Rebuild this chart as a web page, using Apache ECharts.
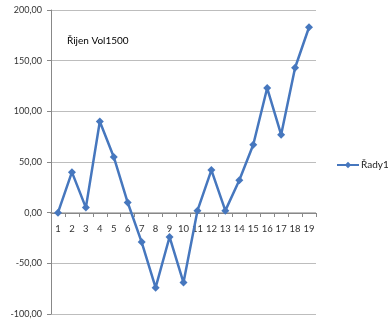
<!DOCTYPE html>
<html><head><meta charset="utf-8">
<script src="https://cdn.jsdelivr.net/npm/echarts@6/dist/echarts.min.js"></script>
<style>html,body{margin:0;padding:0;background:#fff}#c{width:388px;height:321px}</style>
</head><body><div id="c"></div>
<script>
const categories = ['1','2','3','4','5','6','7','8','9','10','11','12','13','14','15','16','17','18','19'];
const seriesName = 'Řady1';
const values = [0, 40, 5, 90, 55, 10, -29, -74, -24, -69, 2, 42, 2, 32, 67, 123, 77, 143, 183];
const chartTitle = 'Řijen Vol1500';
const yMin = -100, yMax = 200, yStep = 50;

const font = 'Lato, "Open Sans", sans-serif';
const gridH = 304;
const zeroOffset = -Math.round(gridH * (0 - yMin) / (yMax - yMin));
const chart = echarts.init(document.getElementById('c'));
chart.setOption({
  animation: false,
  backgroundColor: '#ffffff',
  title: { text: chartTitle, left: 62, top: 31, textStyle: { fontFamily: font, fontSize: 10, fontWeight: 'normal', color: '#000' } },
  legend: { data: [seriesName], left: 331, top: 155, itemWidth: 22, itemHeight: 8, itemGap: 2,
    textStyle: { fontFamily: font, fontSize: 10, color: '#222', padding: [0,0,0,-3] } },
  grid: { left: 51, top: 10, width: 265, height: gridH },
  xAxis: { type: 'category', data: categories, boundaryGap: true, position: 'bottom', offset: zeroOffset,
    axisLine: { onZero: false, lineStyle: { color: '#888', width: 1 } },
    axisTick: { show: true, length: 4, lineStyle: { color: '#888' } },
    axisLabel: { fontFamily: font, fontSize: 9.5, color: '#333', margin: 11, interval: 0 } },
  yAxis: { type: 'value', min: yMin, max: yMax, interval: yStep,
    axisLine: { show: true, lineStyle: { color: '#888' } },
    axisTick: { show: true, length: 4, lineStyle: { color: '#888' } },
    splitLine: { lineStyle: { color: '#bdbdbd', width: 1 } },
    axisLabel: { fontFamily: font, fontSize: 9, color: '#333', margin: 9,
      formatter: v => v.toFixed(2).replace('.', ',') } },
  series: [{ name: seriesName, type: 'line', data: values,
    symbol: 'diamond', symbolSize: 8, showAllSymbol: true,
    lineStyle: { color: '#4677BE', width: 2.5 },
    itemStyle: { color: '#4677BE' } }]
});
</script></body></html>
